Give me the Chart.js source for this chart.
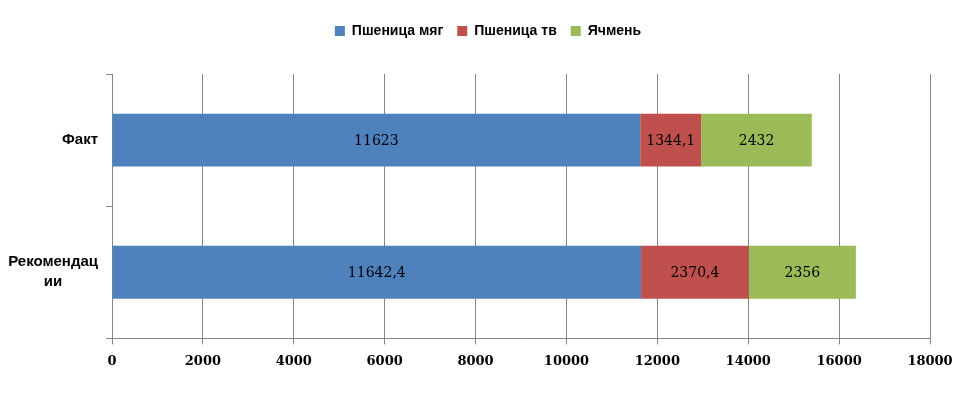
<!DOCTYPE html>
<html>
<head>
  <meta charset="utf-8">
  <title>Факт / Рекомендации</title>
  <script src="https://cdn.jsdelivr.net/npm/chart.js"></script>
  <style>
    html, body { margin: 0; padding: 0; background: #fff; }
    #wrap { width: 976px; height: 397px; }
  </style>
</head>
<body>
  <div id="wrap"><canvas id="chart" width="976" height="397"></canvas></div>
  <script>
    // данные
    const categories = [['Факт'], ['Рекомендац', 'ии']];
    const seriesNames = ['Пшеница мяг', 'Пшеница тв', 'Ячмень'];
    const wheatSoft = [11623, 11642.4];
    const wheatHard = [1344.1, 2370.4];
    const barley = [2432, 2356];
    const xTicks = [0, 2000, 4000, 6000, 8000, 10000, 12000, 14000, 16000, 18000];

    const colors = ['#4F81BD', '#C0504D', '#9BBB59'];
    const sansFont = '"Liberation Sans", Arial, sans-serif';
    const serifFont = '"DejaVu Serif", "Liberation Serif", serif';

    // подписи значений в центре сегментов
    const valueLabels = {
      id: 'valueLabels',
      afterDatasetsDraw(chart) {
        const ctx = chart.ctx;
        ctx.save();
        ctx.font = '14px ' + serifFont;
        ctx.fillStyle = '#000';
        ctx.textAlign = 'center';
        ctx.textBaseline = 'middle';
        chart.data.datasets.forEach((ds, i) => {
          chart.getDatasetMeta(i).data.forEach((bar, j) => {
            const p = bar.getCenterPoint();
            ctx.fillText(String(ds.data[j]).replace('.', ','), p.x, p.y + 1);
          });
        });
        ctx.restore();
      }
    };

    // подписи категорий: блок выровнен вправо, строки по центру блока
    const categoryLabels = {
      id: 'categoryLabels',
      afterDraw(chart) {
        const ctx = chart.ctx;
        const y = chart.scales.y;
        ctx.save();
        ctx.font = 'bold 15px ' + sansFont;
        ctx.fillStyle = '#000';
        ctx.textAlign = 'center';
        ctx.textBaseline = 'middle';
        const lineH = 20;
        categories.forEach((lines, i) => {
          const w = Math.max(...lines.map(t => ctx.measureText(t).width));
          const cx = y.right - 14 - w / 2;
          const cy = y.getPixelForTick(i);
          lines.forEach((t, k) => {
            ctx.fillText(t, cx, cy + (k - (lines.length - 1) / 2) * lineH);
          });
        });
        ctx.restore();
      }
    };

    // отступ под легендой
    const legendMargin = {
      id: 'legendMargin',
      beforeInit(chart) {
        const fit = chart.legend.fit;
        chart.legend.fit = function () {
          fit.call(this);
          this.height += 26;
        };
      }
    };

    new Chart(document.getElementById('chart'), {
      type: 'bar',
      data: {
        labels: categories,
        datasets: [
          { label: seriesNames[0], data: wheatSoft, backgroundColor: colors[0] },
          { label: seriesNames[1], data: wheatHard, backgroundColor: colors[1] },
          { label: seriesNames[2], data: barley, backgroundColor: colors[2] }
        ]
      },
      options: {
        indexAxis: 'y',
        responsive: false,
        animation: false,
        datasets: { bar: { barPercentage: 0.4, categoryPercentage: 1.0 } },
        layout: { padding: { left: 46, right: 46, top: 10, bottom: 19 } },
        scales: {
          x: {
            stacked: true,
            min: 0,
            max: 18000,
            afterBuildTicks(axis) { axis.ticks = xTicks.map(v => ({ value: v })); },
            grid: { color: '#868686', tickLength: 6 },
            border: { color: '#868686' },
            ticks: {
              color: '#000',
              padding: 9,
              callback: v => String(v),
              font: { family: serifFont, size: 13, weight: 'bold' }
            }
          },
          y: {
            stacked: true,
            afterFit(axis) { axis.width = 66; },
            grid: { drawOnChartArea: false, color: '#868686', tickLength: 6, offset: true },
            border: { color: '#868686' },
            ticks: { display: false }
          }
        },
        plugins: {
          tooltip: { enabled: false },
          legend: {
            position: 'top',
            labels: {
              boxWidth: 10,
              boxHeight: 10,
              padding: 14,
              color: '#000',
              font: { family: sansFont, size: 14, weight: 'bold' }
            }
          }
        }
      },
      plugins: [valueLabels, categoryLabels, legendMargin]
    });
  </script>
</body>
</html>
